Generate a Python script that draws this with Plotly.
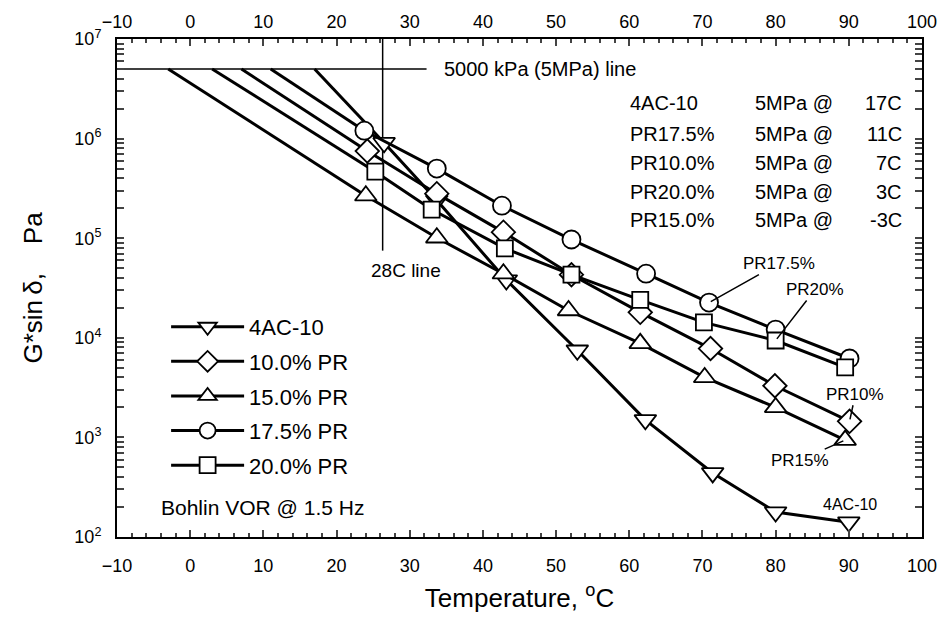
import numpy as np
import plotly.graph_objects as go

# ---------------- data ----------------
series_names = ["4AC-10", "10.0% PR", "15.0% PR", "17.5% PR", "20.0% PR"]
series_symbols = ["triangle-down", "diamond", "triangle-up", "circle", "square"]

# measured G*sin(delta), Pa
ac10_T = [26.5, 33.7, 43.2, 52.9, 62.2, 71.4, 80.0, 90.0]
ac10_G = [9.1e5, 2.4e5, 3.8e4, 7.5e3, 1.5e3, 440, 178, 141]

pr10_T = [24.2, 33.7, 42.8, 52.1, 61.5, 71.1, 79.9, 90.1]
pr10_G = [7.5e5, 2.8e5, 1.15e5, 4.3e4, 1.8e4, 7.8e3, 3.3e3, 1.45e3]

pr15_T = [24.0, 33.7, 42.8, 51.7, 61.5, 70.3, 80.0, 89.5]
pr15_G = [2.67e5, 1.01e5, 4.4e4, 1.88e4, 8.8e3, 4.0e3, 2.0e3, 940]

pr175_T = [23.8, 33.7, 42.6, 52.1, 62.3, 70.9, 80.0, 90.1]
pr175_G = [1.2e6, 5.0e5, 2.12e5, 9.7e4, 4.4e4, 2.26e4, 1.21e4, 6.2e3]

pr20_T = [25.3, 33.0, 43.0, 52.1, 61.5, 70.2, 80.0, 89.5]
pr20_G = [4.65e5, 1.94e5, 7.9e4, 4.3e4, 2.4e4, 1.43e4, 9.4e3, 5.05e3]

# extrapolated temperatures at which G*sin(delta) = 5 MPa
crit_T = [17, 7, -3, 11, 3]
crit_labels = ["4AC-10", "PR17.5%", "PR10.0%", "PR20.0%", "PR15.0%"]
crit_label_T = ["17C", "11C", "7C", "3C", "-3C"]

LIMIT_G = 5.0e6           # 5000 kPa line
LIMIT_LINE_T = [-10, 32.3]
LINE_28C_T = 26.3
LINE_28C_G = [1e7, 7.5e4]

x_ticks = list(range(-10, 101, 10))
y_tickvals = [1e2, 1e3, 1e4, 1e5, 1e6, 1e7]
y_ticktext = ["10<sup>%d</sup>" % int(np.log10(v)) for v in y_tickvals]

all_T = [ac10_T, pr10_T, pr15_T, pr175_T, pr20_T]
all_G = [ac10_G, pr10_G, pr15_G, pr175_G, pr20_G]

FONT = "Arial"
fig = go.Figure()

# extrapolation lines up to the 5 MPa line
for T, G, tc in zip(all_T, all_G, crit_T):
    fig.add_trace(go.Scatter(x=[tc, T[0]], y=[LIMIT_G, G[0]], mode="lines",
                             line=dict(color="black", width=3),
                             showlegend=False, hoverinfo="skip"))

# reference lines
fig.add_trace(go.Scatter(x=LIMIT_LINE_T, y=[LIMIT_G, LIMIT_G], mode="lines",
                         line=dict(color="black", width=1.5),
                         showlegend=False, hoverinfo="skip"))
fig.add_trace(go.Scatter(x=[LINE_28C_T, LINE_28C_T], y=LINE_28C_G, mode="lines",
                         line=dict(color="black", width=1.5),
                         showlegend=False, hoverinfo="skip"))

# measured series
for i, (name, sym, T, G) in enumerate(zip(series_names, series_symbols, all_T, all_G)):
    size = 18 if sym != "square" else 16
    if sym.startswith("triangle"):
        size = 19
    fig.add_trace(go.Scatter(x=T, y=G, mode="lines+markers", name=name,
                             legendgroup=name,
                             line=dict(color="black", width=3),
                             marker=dict(symbol=sym, size=size, color="white",
                                         line=dict(color="black", width=1.8))))

# dummy trace for top axis
fig.add_trace(go.Scatter(x=[0], y=[None], xaxis="x2", yaxis="y",
                         showlegend=False, hoverinfo="skip"))

ann = []
def add_text(x, y, text, size, xanchor="left", **kw):
    ann.append(dict(x=x, y=np.log10(y), xref="x", yref="y", text=text,
                    showarrow=False, xanchor=xanchor, yanchor="middle",
                    font=dict(family=FONT, size=size, color="black"), **kw))

add_text(34.4, 10**6.70, "5000 kPa (5MPa) line", 20)
rows_y = [6.36, 6.05, 5.76, 5.46, 5.18]
for lab, tl, ly in zip(crit_labels, crit_label_T, rows_y):
    add_text(59.8, 10**ly, lab, 20)
    add_text(76.9, 10**ly, "5MPa @", 20)
    add_text(97.6, 10**ly, tl, 20, xanchor="right")
add_text(29.5, 10**4.675, "28C line", 19, xanchor="center")
add_text(-4.2, 10**2.30, "Bohlin VOR @ 1.5 Hz", 21)
add_text(90.2, 10**2.33, "4AC-10", 16, xanchor="center")

def callout(px, py, tx, ty, text):
    ann.append(dict(x=px, y=np.log10(py), xref="x", yref="y",
                    ax=tx, ay=ty, axref="x", ayref="y",
                    text=text, showarrow=True, arrowhead=0, arrowwidth=1.5,
                    arrowcolor="black", standoff=2,
                    font=dict(family=FONT, size=17, color="black")))

callout(pr175_T[5], pr175_G[5], 80.4, 4.745, "PR17.5%")
callout(pr20_T[6], pr20_G[6], 85.4, 4.485, "PR20%")
callout(pr10_T[7], pr10_G[7], 90.9, 3.433, "PR10%")
callout(pr15_T[7], pr15_G[7], 83.3, 2.772, "PR15%")

axis_font = dict(family=FONT, size=18, color="black")
fig.update_layout(
    width=949, height=629,
    margin=dict(l=117, r=24, t=38, b=92),
    paper_bgcolor="white", plot_bgcolor="white",
    showlegend=True,
    legend=dict(x=0.061, y=0.464, xanchor="left", yanchor="top",
                bgcolor="rgba(0,0,0,0)", borderwidth=0,
                font=dict(family=FONT, size=22, color="black"),
                itemwidth=73, tracegroupgap=3),
    annotations=ann,
    xaxis=dict(range=[-10, 100], tickvals=x_ticks, ticks="inside", ticklen=7,
               tickwidth=2, showline=True, linewidth=2, linecolor="black",
               mirror="allticks", showgrid=False, zeroline=False,
               tickfont=axis_font, ticklabelstandoff=11,
               minor=dict(ticks="inside", ticklen=4, tickwidth=1.5, dtick=2,
                          showgrid=False),
               title=dict(text="Temperature, <sup>o</sup>C",
                          font=dict(family=FONT, size=26, color="black"),
                          standoff=14)),
    xaxis2=dict(range=[-10, 100], tickvals=x_ticks, overlaying="x", side="top",
                matches="x", ticks="inside", ticklen=7, tickwidth=2,
                showgrid=False, zeroline=False, tickfont=axis_font,
                ticklabelstandoff=6,
                minor=dict(ticks="inside", ticklen=4, tickwidth=1.5, dtick=2,
                           showgrid=False)),
    yaxis=dict(type="log", range=[2, 7], tickvals=y_tickvals, ticktext=y_ticktext,
               ticks="inside", ticklen=7, tickwidth=2, showline=True, linewidth=2,
               linecolor="black", mirror="allticks", showgrid=False, zeroline=False,
               tickfont=axis_font, ticklabelstandoff=10,
               minor=dict(ticks="inside", ticklen=4, tickwidth=1.5, dtick="D1",
                          showgrid=False),
               title=dict(text="G*sin\u2009\u03b4,\u00a0\u00a0\u00a0\u00a0Pa",
                          font=dict(family=FONT, size=26, color="black"),
                          standoff=24)),
)

fig.write_html("out.html")
